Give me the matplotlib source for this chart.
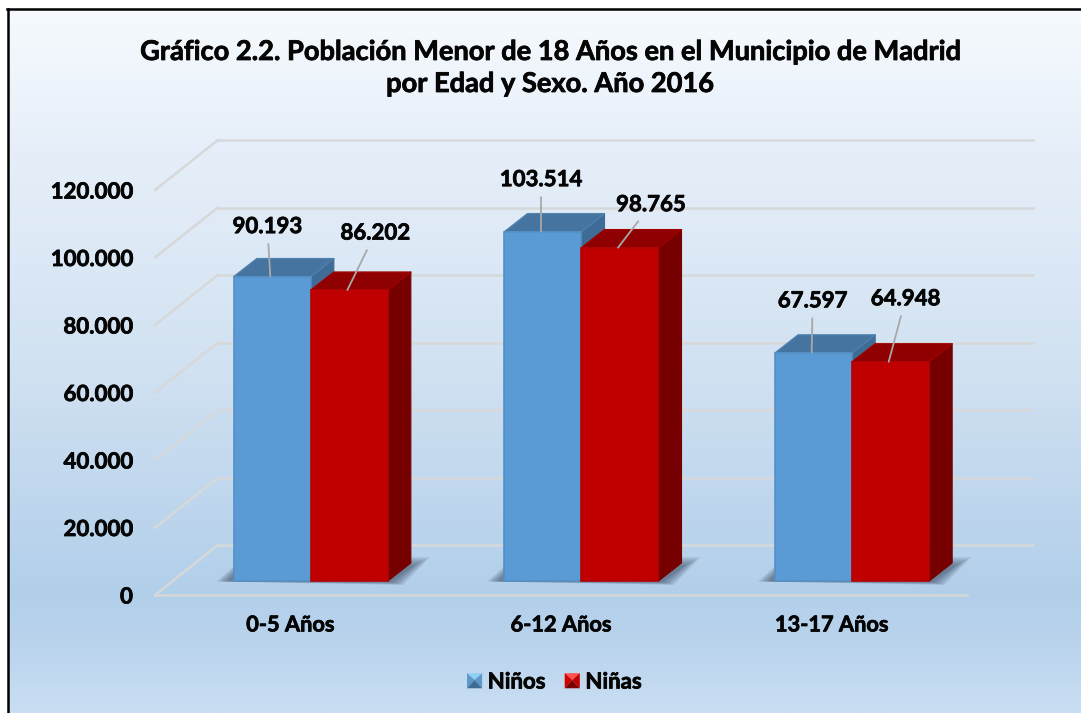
import numpy as np
import matplotlib
matplotlib.use("Agg")
import matplotlib.pyplot as plt
import matplotlib.patheffects as pe
from matplotlib.colors import LinearSegmentedColormap
from matplotlib.legend_handler import HandlerBase
from matplotlib.lines import Line2D
from matplotlib.patches import Patch, Polygon
from matplotlib.transforms import Affine2D

categories = ["0-5 Años", "6-12 Años", "13-17 Años"]
ninos = [90193, 103514, 67597]
ninas = [86202, 98765, 64948]
series_names = ["Niños", "Niñas"]
y_ticks = [0, 20000, 40000, 60000, 80000, 100000, 120000]
y_labels = ["0", "20.000", "40.000", "60.000", "80.000", "100.000", "120.000"]
title = "Gráfico 2.2. Población Menor de 18 Años en el Municipio de Madrid\npor Edad y Sexo. Año 2016"

W, H = 1081, 713
plt.rcParams["font.family"] = ["Lato", "DejaVu Sans"]
plt.rcParams["font.weight"] = "bold"
fig = plt.figure(figsize=(W / 100, H / 100), dpi=100, facecolor="white")
INK = "#050505"
heavy = [pe.withStroke(linewidth=0.55, foreground=INK)]

# ---- background gradient and the left/top border
bg = fig.add_axes([9 / W, 0, 1 - 9 / W, 1 - 10 / H], zorder=-5)
cmap = LinearSegmentedColormap.from_list(
    "bg", [(0, "#f6fafe"), (0.2, "#e6eff9"), (0.5, "#d2e2f2"),
           (0.83, "#b2cfea"), (0.9, "#b9d3ec"), (1, "#c9def3")])
bg.imshow(np.linspace(0, 1, 256)[:, None], aspect="auto", cmap=cmap, vmin=0, vmax=1)
bg.axis("off")
fig.add_artist(Line2D([8 / W, 8 / W], [0, 1 - 9 / H], color="black", lw=1.8))
fig.add_artist(Line2D([7 / W, 1], [1 - 9 / H, 1 - 9 / H], color="black", lw=1.8))

# ---- main axes: the front plane of the 3-D box
L, R, B, T = 155, 967, 595, 190
ax = fig.add_axes([L / W, 1 - B / H, (R - L) / W, (B - T) / H])
ax.set_xlim(-0.5, 2.5)
ax.set_ylim(0, 120000)
ax.patch.set_alpha(0)
for s in ax.spines.values():
    s.set_visible(False)
ax.set_xticks(range(len(categories)), categories)
ax.set_yticks(y_ticks, y_labels)
ax.tick_params(axis="x", length=0, pad=14, labelsize=15.7)
ax.tick_params(axis="y", length=0, pad=16, labelsize=16)
for t in ax.get_xticklabels() + ax.get_yticklabels():
    t.set_color(INK)
    t.set_fontweight("bold")
    t.set_path_effects(heavy)

px = 3 / (R - L)            # data units per pixel, x
py = 120000 / (B - T)       # data units per pixel, y

# ---- walls
grid_c = "#d6d8da"
back_dx, back_dy = 63, 50
for v in y_ticks:
    ax.plot([-0.5, -0.5 + back_dx * px], [v, v + back_dy * py], color=grid_c, lw=1.8, clip_on=False, zorder=1)
    ax.plot([-0.5 + back_dx * px, 2.5 + 66 * px], [v + back_dy * py] * 2, color=grid_c, lw=1.8, clip_on=False, zorder=1)
ax.plot([-0.5, 2.5], [0, 0], color=grid_c, lw=1.8, clip_on=False, zorder=1)

# ---- bars: drawn on a plane shifted back into the box
shift_x, shift_y = 20.5, 14
bar_tr = ax.transData + Affine2D().translate(shift_x, shift_y)
bw = 77 * px
dep_x, dep_y = 23 * px, 18 * py
x = np.arange(len(categories))

styles = [("#5b9bd5", "#5590c6", "#44749f", "#3e6c96", "#4f81ad"),
          ("#c00000", "#b40404", "#8f0000", "#760000", "#a00000")]

# floor shadows, built up from layers to look blurred
for i in x:
    x0, x1 = i - bw, i + bw
    for k in np.linspace(9, 0, 10):
        verts = [(x0 - (5 + k * 1.4) * px, -0.5 * py), (x0, (6 + k) * py), (x1 + 23 * px, (15 + k) * py),
                 (x1 + (26 + k * 1.8) * px, (15 + k) * py), (x1 + (3 + k * 1.4) * px, -(1 + k / 3) * py)]
        ax.add_patch(Polygon(verts, closed=True, transform=bar_tr, facecolor="#3d4f63", edgecolor="none",
                             alpha=0.085, zorder=2, clip_on=False))

leader_px = [(-3, 50), (28, 57), (0, 52), (33, 43), (1, 52), (17, 63)]
z = 3
for s, (vals, off) in enumerate(zip([ninos, ninas], [-0.5, 0.5])):
    front, edge, top, side, rim = styles[s]
    for i, v in zip(x, vals):
        xc = i + off * bw
        x0, x1 = xc - bw / 2, xc + bw / 2
        ax.add_patch(Polygon([(x1, 0), (x1 + dep_x, dep_y), (x1 + dep_x, v + dep_y), (x1, v)],
                             transform=bar_tr, facecolor=side, edgecolor=side, lw=0.8, joinstyle="round",
                             zorder=z, clip_on=False))
        ax.add_patch(Polygon([(x0, v), (x0 + dep_x, v + dep_y), (x1 + dep_x, v + dep_y), (x1, v)],
                             transform=bar_tr, facecolor=top, edgecolor=rim, lw=1.0, joinstyle="round",
                             zorder=z, clip_on=False))
        ax.bar(xc, v, bw, color=front, edgecolor=edge, linewidth=1.2, transform=bar_tr, zorder=z + 0.5, clip_on=False)
        z += 1

z += 1
tops = []
for vals, off in zip([ninos, ninas], [-0.5, 0.5]):
    for i, v in zip(x, vals):
        tops.append((i, off, v))
tops.sort()
for (i, off, v), dxy in zip(tops, leader_px):
    ax.annotate(f"{v:,}".replace(",", "."), xy=(i + off * bw - 2 * px, v), xycoords=bar_tr,
                xytext=dxy, textcoords="offset pixels", ha="center", va="center",
                fontsize=16, fontweight="bold", color=INK, zorder=z, path_effects=heavy,
                arrowprops=dict(arrowstyle="-", color="#a8a8a8", lw=1.3, shrinkA=3, shrinkB=0,
                                path_effects=[]))


# ---- legend with bevelled keys
class BevelKey(HandlerBase):
    def __init__(self, shades):
        super().__init__()
        self.shades = shades

    def create_artists(self, legend, orig, xd, yd, width, height, fontsize, trans):
        s = min(width, height)
        x0, y0 = -xd + (width - s) / 2, -yd + (height - s) / 2
        c = (x0 + s / 2, y0 + s * 0.55)
        a, b, cc, d = (x0, y0), (x0 + s, y0), (x0 + s, y0 + s), (x0, y0 + s)
        return [Polygon(p, closed=True, facecolor=col, edgecolor="none", transform=trans)
                for p, col in zip([(d, cc, c), (a, d, c), (b, cc, c), (a, b, c)], self.shades)]


h1 = Patch(facecolor="#5b9bd5", label=series_names[0])
h2 = Patch(facecolor="#c00000", label=series_names[1])
leg = fig.legend(handles=[h1, h2], loc="center", bbox_to_anchor=(554.5 / W, 1 - 682 / H), ncol=2, frameon=False,
                 fontsize=16, handlelength=0.68, handleheight=0.68, handletextpad=0.25, columnspacing=0.85,
                 handler_map={h1: BevelKey(["#8ed2f2", "#5f97c8", "#5f97c8", "#3c6c98"]),
                              h2: BevelKey(["#ff5050", "#d00000", "#c00000", "#7c0000"])})
for t in leg.get_texts():
    t.set_color(INK)
    t.set_path_effects(heavy)

st = fig.suptitle(title, x=550 / W, y=1 - 68 / H, va="center", ha="center", fontsize=19.6, fontweight="bold",
                  color=INK, linespacing=1.4)
st.set_path_effects(heavy)

fig.savefig("out.png", dpi=100)
